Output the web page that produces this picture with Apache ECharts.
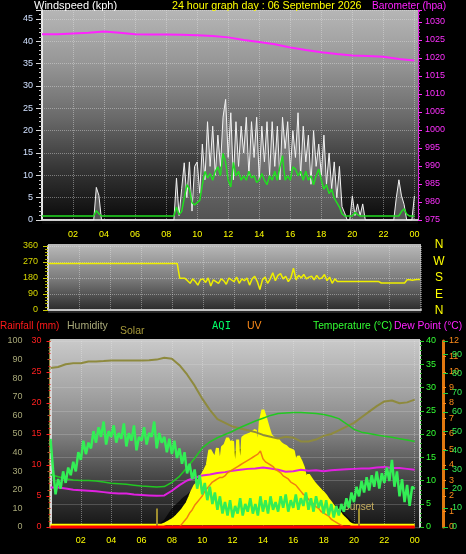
<!DOCTYPE html>
<html><head><meta charset="utf-8">
<script src="https://cdn.jsdelivr.net/npm/echarts@6/dist/echarts.min.js"></script>
<style>html,body{margin:0;padding:0;background:#000;}#c{width:466px;height:554px;}</style>
</head><body><div id="c"></div>
<script>
// ---------- DATA ----------
// 10-minute samples 00:00 .. 24:00 (145 values)
const gust = [
 0,0,0,0,0,0, 0,0,0,0,0,0, 0,0,0,0,0,0, 0,0,0,7.3,5.5,0,
 0,0,0,0,0,0, 0,0,0,0,0,0, 0,0,0,0,0,0, 0,0,0,0,0,0,
 0,0,0,0,9.4,1, 7,12.8,5,13,2,12, 13,6,17,9,22,12, 21,10,19,12,23,27,
 14,24,9,22,12,21, 15,23,10,22,14,23, 9,21,13,22,10,22, 12,21,9,23,16,22,
 11,20,14,24,10,21, 13,19,8,20,12,17, 10,19,8,15,7,13, 5,12,3,1.6,0,0,
 5.4,1,3.6,1,3.6,0, 0,0,0,0,0,0, 0,0,0,0,0,5, 9,5.4,3.5,0,0,0,
 5.4
];
const windAvg = [
 0,0,0,0,0,0, 0,0,0,0,0,0, 0,0,0,0,0,0, 0,0,0,1.2,0.5,0,
 0,0,0,0,0,0, 0,0,0,0,0,0, 0,0,0,0,0,0, 0,0,0,0,0,0,
 0,0,0,0,2,0.3, 1,4,7,6,3,2.5, 3,3.5,7,10,8.5,9.5, 8,10,11,9,14,12,
 8,6.5,12,9,10,8, 9,8,10,8.5,9,7.5, 8,9.5,8,7,9,8, 10,8,11,13.5,8,9,
 8,11,10.5,9,10,8, 10,8,9,7,9,10.5, 8,6,7,5,6,4, 3,2,0.5,0,0,0,
 0,0.8,0.3,0,0,0, 0,0,0,0,0,0, 0,0,0,0,0,0, 0,1,1.6,0.4,0,0,
 0
];
const windDir = [
 262,262,262,262,262,262, 262,262,262,262,262,262, 262,262,262,262,262,262, 262,262,262,262,262,262,
 262,262,262,262,262,262, 262,262,262,262,262,262, 262,262,262,262,262,262, 262,262,262,262,262,262,
 262,262,262,178,178,178, 165,150,175,160,140,170, 175,155,180,135,170,160, 150,175,165,145,180,170,
 160,185,150,175,165,180, 140,175,190,160,115,170, 185,150,175,210,165,195, 205,175,190,160,180,235,
 170,195,180,200,175,185, 190,170,195,175,180,200, 165,185,150,175,160,160, 160,160,160,160,160,160,
 160,160,160,160,160,160, 160,160,160,152,152,152, 152,152,152,152,152,152, 152,170,170,168,170,172,
 172
];
const aqi = [
 46,30,17,25,20,29, 23,31,27,34,29,39, 35,45,38,44,41,50, 44,52,47,55,43,50,
 47,53,44,49,46,54, 42,49,45,53,40,47, 45,52,43,49,47,55, 41,49,44,47,39,46,
 38,45,36,41,33,39, 28,33,25,30,20,27, 17,23,14,21,12,18, 9,16,7,13,6,14,
 5,11,7,15,6,12, 8,15,7,12,6,16, 8,14,7,16,9,13, 8,16,10,17,8,14,
 10,17,9,15,11,18, 9,15,8,16,10,14, 7,14,6,12,5,11, 6,12,8,15,10,18,
 13,21,16,24,18,26, 19,27,21,29,20,28, 23,31,24,35,21,29, 16,25,13,22,11,21,
 20
];
const solar = [
 0,0,0,0,0,0, 0,0,0,0,0,0, 0,0,0,0,0,0, 0,0,0,0,0,0,
 0,0,0,0,0,0, 0,0,0,0,0,0, 0,0,0,0,0,0, 0,0,0,5,12,20,
 27,38,50,65,80,100, 118,150,183,210,226,250, 270,295,323,404,380,350, 414,300,420,432,468,440,
 450,210,460,240,470,480, 485,490,500,511,380,560, 620,576,530,485,470,460, 457,440,430,424,410,405,
 398,330,370,344,310,250, 270,250,230,215,200,185, 172,155,135,118,100,88, 75,55,40,27,12,3,
 0,0,0,0,0,0, 0,0,0,0,0,0, 0,0,0,0,0,0, 0,0,0,0,0,0,
 0
];
const solarMax = [
 0,0,0,0,0,0, 0,0,0,0,0,0, 0,0,0,0,0,0, 0,0,0,0,0,0,
 0,0,0,0,0,0, 0,0,0,0,0,0, 0,0,0,0,0,0, 0,8,18,30,50,70,
 90,105,118,130,145,155, 165,178,190,200,215,230, 245,260,275,290,305,318, 330,340,350,360,370,380,
 390,397,404,410,415,420, 424,427,429,430,430,430, 430,428,425,420,415,408, 400,393,385,375,365,355,
 345,333,320,305,292,278, 265,250,235,220,205,190, 175,160,145,130,117,103, 90,77,64,50,37,25,
 15,6,0,0,0,0, 0,0,0,0,0,0, 0,0,0,0,0,0, 0,0,0,0,0,0,
 0
];
const uv = [
 0,0,0,0,0,0, 0,0,0,0,0,0, 0,0,0,0,0,0, 0,0,0,0,0,0,
 0,0,0,0,0,0, 0,0,0,0,0,0, 0,0,0,0,0,0, 0,0,0,0,0,0,
 0,0,0,0,0.2,0.4, 0.6,0.9,1.1,1.4,1.6,1.8, 2.0,2.3,2.5,2.7,2.9,3.0, 3.1,3.2,3.2,3.3,3.5,3.6,
 3.7,3.8,3.9,4.0,4.1,4.2, 4.3,4.4,4.5,4.6,4.7,4.9, 4.4,4.2,4.1,4.0,3.9,3.7, 3.6,3.5,3.3,3.2,3.1,2.9,
 2.8,2.7,2.5,2.3,2.1,2.0, 1.8,1.6,1.5,1.3,1.2,1.0, 0.9,0.8,0.7,0.5,0.4,0.3, 0.2,0.1,0,0,0,0,
 0,0,0,0,0,0, 0,0,0,0,0,0, 0,0,0,0,0,0, 0,0,0,0,0,0,
 0
];
// 30-minute samples 00:00 .. 24:00 (49 values)
const humidity = [85.5,86,87.5,88,88,89,89,89.2,89.5,89.5,89.5,89.5,89.5,89.6,90,91,90.5,87,82,76,69,63,58,56,54,53,52,51,49.5,48.5,47.5,48.5,48,46,46,47,49,50,52,54,56,59,62,65,67.5,68,66.5,67,68.5];
const temperature = [11.3,10.8,10.4,10.1,10.0,10.0,9.9,9.7,9.4,9.3,9.2,9.0,8.8,8.7,8.6,8.7,9.6,10.9,12.8,14.8,17.0,18.3,19.2,19.9,20.6,21.4,22.1,22.8,23.4,24.0,24.4,24.5,24.6,24.6,24.5,24.4,24.2,23.8,23.3,22.2,21.0,20.4,20.1,19.8,19.5,19.3,19.0,18.7,18.4];
const dewPoint = [8.5,8.5,8.3,8.0,7.9,7.8,7.7,7.5,7.3,7.2,7.2,7.0,6.9,6.8,6.7,6.8,7.8,9.0,10.0,10.6,11.1,11.3,11.6,11.8,12.1,12.3,12.5,12.6,12.8,12.6,12.3,11.9,12.0,12.3,12.1,12.2,12.0,12.2,12.3,12.4,12.5,12.6,12.6,12.8,12.9,12.7,12.7,12.5,12.3];
// hourly samples 00 .. 24 (25 values)
const barometer = [1026.6,1026.6,1026.8,1027.0,1027.3,1027.0,1026.6,1026.5,1026.5,1026.4,1026.3,1026.1,1025.7,1025.0,1024.4,1023.8,1022.9,1022.2,1021.6,1021.1,1020.7,1020.5,1020.3,1019.7,1019.3];
const rainfall = [0,0,0,0,0,0,0,0,0,0,0,0,0,0,0,0,0,0,0,0,0,0,0,0,0];
const sunEvents = [7.03, 20.32];
const compass = ['N','W','S','E','N'];

// ---------- BUILD ----------
const t10 = gust.map((_, i) => i / 6);
const t30 = humidity.map((_, i) => i / 2);
const t60 = barometer.map((_, i) => i);
const pair = (xs, ys) => ys.map((v, i) => [xs[i], v]);
const hourFmt = v => (Number.isInteger(v) && v > 0 && v % 2 === 0) ? String(v % 24).padStart(2, '0') : '';
const FONT = 'Liberation Sans';
const dotted = {show:true, lineStyle:{color:'rgba(230,230,230,0.42)', type:'dotted', width:1}};
const grad = stops => ({type:'linear', x:0, y:0, x2:0, y2:1, colorStops: stops.map((c, i) => ({offset: i/(stops.length-1), color: c}))});

const chart = echarts.init(document.getElementById('c'), null, {renderer:'canvas'});
const txt = (x, y, text, fill, size, extra) => ({type:'text', x, y, z:100, silent:true,
  style:{text, fill, font: size + 'px ' + (extra && extra.family || FONT), textVerticalAlign:'middle', textAlign: (extra && extra.align) || 'left'}});

const option = {
  backgroundColor:'#000',
  animation:false,
  textStyle:{fontFamily:FONT},
  graphic:[
    {type:'rect', z:-10, silent:true, shape:{x:42, y:10, width:376, height:214}, style:{fill: grad(['#b6b6b6','#969696','#6a6a6a','#343434','#070707'])}},
    {type:'rect', z:-10, silent:true, shape:{x:48, y:244, width:373, height:69}, style:{fill: grad(['#bababa','#7c7c7c','#242424'])}},
    {type:'rect', z:-10, silent:true, shape:{x:50, y:339, width:370, height:190}, style:{fill: grad(['#cacaca','#a8a8a8','#808080','#424242','#141414'])}},
    txt(34, 6, 'Windspeed (kph)', '#ffffff', 11),
    txt(172, 6, '24 hour graph day : 06 September 2026', '#ffff00', 10.7),
    txt(372, 6, 'Barometer (hpa)', '#ff22ff', 10.2),
    txt(0, 326, 'Rainfall (mm)', '#ff1a1a', 10),
    txt(67, 326, 'Humidity', '#a8a878', 10.5),
    txt(120, 331, 'Solar', '#a89a3a', 10.5),
    txt(212, 326, 'AQI', '#00ff66', 10.5, {family:'DejaVu Sans Mono'}),
    txt(247, 326, 'UV', '#ff8c1a', 10.5),
    txt(313, 326, 'Temperature (°C)', '#33ff33', 10.3),
    txt(394, 326, 'Dew Point (°C)', '#ff22ff', 10.3),
    ...compass.map((c, i) => txt(439, 245 + i * 16.4, c, '#ffff00', 12, {align:'center'})),
    Object.assign(txt(343, 507, 'Sunset', '#c8b060', 10), {z:1})
  ],
  grid:[
    {left:42, top:10, width:376, height:210},
    {left:48, top:246, width:373, height:64},
    {left:50.5, top:341, width:369.5, height:186}
  ],
  xAxis:[
    {gridIndex:0, type:'value', min:0, max:24.23, interval:2,
     axisLine:{show:true, onZero:false, lineStyle:{color:'#c4c4c4', width:2}}, axisTick:{show:false},
     axisLabel:{color:'#ffff00', fontSize:9, margin:10, formatter:hourFmt, showMaxLabel:false}, splitLine:dotted},
    {gridIndex:1, type:'value', min:0, max:24.06, interval:2,
     axisLine:{show:true, onZero:false, lineStyle:{color:'#c4c4c4', width:2}}, axisTick:{show:false},
     axisLabel:{show:false}, splitLine:dotted},
    {gridIndex:2, type:'value', min:0, max:24.35, interval:2,
     axisLine:{show:false, onZero:false}, axisTick:{show:false},
     axisLabel:{color:'#ffff00', fontSize:9, margin:9, formatter:hourFmt, showMaxLabel:false}, splitLine:dotted}
  ],
  yAxis:[
    // 0 wind speed
    {gridIndex:0, type:'value', position:'left', min:0, max:47, interval:5,
     axisLine:{show:true, lineStyle:{color:'#e8e8e8', width:2}},
     axisTick:{show:true, length:6, lineStyle:{color:'#d8d8d8'}},
     minorTick:{show:true, splitNumber:5, length:3, lineStyle:{color:'#c8c8c8'}},
     axisLabel:{color:'#d0e0ff', fontSize:9, margin:9, formatter: v => (v <= 45 && v % 5 === 0) ? String(v) : ''},
     splitLine:dotted},
    // 1 barometer
    {gridIndex:0, type:'value', position:'right', min:975, max:1033.3, interval:5,
     axisLine:{show:true, lineStyle:{color:'#e030e0', width:1}},
     axisTick:{show:true, length:4, lineStyle:{color:'#ff30ff'}},
     minorTick:{show:true, splitNumber:5, length:2, lineStyle:{color:'#d020d0'}},
     axisLabel:{color:'#ff30ff', fontSize:9, margin:7, formatter: v => (v % 5 === 0) ? String(v) : ''},
     splitLine:{show:false}},
    // 2 wind average (same scale, baseline 4px lower)
    {gridIndex:0, type:'value', show:false, min:-0.9, max:46.1},
    // 3 wind direction
    {gridIndex:1, type:'value', position:'left', min:0, max:360, interval:90,
     axisLine:{show:true, lineStyle:{color:'#d8d8d8', width:2}},
     axisTick:{show:true, length:5, lineStyle:{color:'#c8c800'}},
     minorTick:{show:true, splitNumber:5, length:3, lineStyle:{color:'#b0b000'}},
     axisLabel:{color:'#d8d800', fontSize:9, margin:10},
     splitLine:dotted},
    // 4 humidity
    {gridIndex:2, type:'value', position:'left', offset:20, min:0, max:100, interval:10,
     axisLine:{show:true, lineStyle:{color:'#8c8a40', width:3}},
     axisTick:{show:true, length:3, lineStyle:{color:'#8c8a40'}},
     minorTick:{show:true, splitNumber:2, length:2, lineStyle:{color:'#8c8a40'}},
     axisLabel:{color:'#a8a878', fontSize:9, margin:8},
     splitLine:{show:false}},
    // 5 rainfall
    {gridIndex:2, type:'value', position:'left', offset:0, min:0, max:30, interval:5,
     axisLine:{show:true, lineStyle:{color:'#d8d8d8', width:2}},
     axisTick:{show:true, length:4, lineStyle:{color:'#ff2020'}},
     minorTick:{show:true, splitNumber:5, length:2, lineStyle:{color:'#e02020'}},
     axisLabel:{color:'#ff2020', fontSize:9, margin:9},
     splitLine:{show:false}},
    // 6 temperature
    {gridIndex:2, type:'value', position:'right', offset:0, min:0, max:40, interval:5,
     axisLine:{show:true, lineStyle:{color:'#d8d8d8', width:2}},
     axisTick:{show:true, length:4, lineStyle:{color:'#22cc22'}},
     minorTick:{show:true, splitNumber:5, length:2, lineStyle:{color:'#22aa22'}},
     axisLabel:{color:'#33ff33', fontSize:9, margin:6},
     splitLine:dotted},
    // 7 UV
    {gridIndex:2, type:'value', position:'right', offset:23, min:0, max:12, interval:1,
     axisLine:{show:true, lineStyle:{color:'#e07810', width:3}},
     axisTick:{show:true, length:3, lineStyle:{color:'#ff8c1a'}},
     axisLabel:{color:'#ff8c1a', fontSize:9, margin:6},
     splitLine:{show:false}},
    // 8 AQI
    {gridIndex:2, type:'value', position:'right', offset:23, min:0, max:97, interval:10,
     axisLine:{show:false}, axisTick:{show:true, length:5, lineStyle:{color:'#22cc44'}},
     axisLabel:{color:'#33ee55', fontSize:9, margin:9, formatter: v => (v % 10 === 0) ? String(v) : ''},
     splitLine:{show:false}},
    // 9 solar (hidden)
    {gridIndex:2, type:'value', show:false, min:-10, max:990}
  ],
  series:[
    {type:'line', name:'Gust', xAxisIndex:0, yAxisIndex:0, data:pair(t10, gust), symbol:'none', z:3,
     lineStyle:{color:'#f2f2f2', width:1}, areaStyle:{color:'rgba(215,215,215,0.5)'}},
    {type:'line', name:'Wind', xAxisIndex:0, yAxisIndex:2, data:pair(t10, windAvg), symbol:'none', z:4, clip:false,
     lineStyle:{color:'#22dd22', width:1.5}},
    {type:'line', name:'Barometer', xAxisIndex:0, yAxisIndex:1, data:pair(t60, barometer), symbol:'none', z:5,
     lineStyle:{color:'#ff22ff', width:2}},
    {type:'line', name:'Direction', xAxisIndex:1, yAxisIndex:3, data:pair(t10, windDir), symbol:'none', z:3,
     lineStyle:{color:'#eeee00', width:1.5}},
    {type:'line', name:'SolarMax', xAxisIndex:2, yAxisIndex:9, data:pair(t10, solarMax), symbol:'none', z:1,
     lineStyle:{width:0}, areaStyle:{color:'#000000'}},
    {type:'line', name:'Solar', xAxisIndex:2, yAxisIndex:9, data:pair(t10, solar), symbol:'none', z:2, clip:false,
     lineStyle:{color:'#ffff00', width:3}, areaStyle:{color:'#ffff00', opacity:1},
     markLine:{symbol:'none', silent:true, label:{show:false}, lineStyle:{color:'#a08f30', width:2, type:'solid'},
       data: sunEvents.map(h => [{coord:[h, -10]}, {coord:[h, 90]}])}},
    {type:'line', name:'Humidity', xAxisIndex:2, yAxisIndex:4, data:pair(t30, humidity), symbol:'none', z:3,
     lineStyle:{color:'#8e8a3e', width:2}},
    {type:'line', name:'Temperature', xAxisIndex:2, yAxisIndex:6, data:pair(t30, temperature), symbol:'none', z:4,
     lineStyle:{color:'#22c822', width:1.5}},
    {type:'line', name:'DewPoint', xAxisIndex:2, yAxisIndex:6, data:pair(t30, dewPoint), symbol:'none', z:4,
     lineStyle:{color:'#e020e0', width:2}},
    {type:'line', name:'UV', xAxisIndex:2, yAxisIndex:7, data:pair(t10, uv), symbol:'none', z:5,
     lineStyle:{color:'#f08010', width:1.5}},
    {type:'line', name:'AQI', xAxisIndex:2, yAxisIndex:8, data:pair(t10, aqi), symbol:'none', z:6,
     lineStyle:{color:'#33ee55', width:2.5}},
    {type:'line', name:'Rainfall', xAxisIndex:2, yAxisIndex:5, data:pair(t60, rainfall), symbol:'none', z:7, clip:false,
     lineStyle:{color:'#ff0000', width:3}}
  ]
};
chart.setOption(option);
</script></body></html>
